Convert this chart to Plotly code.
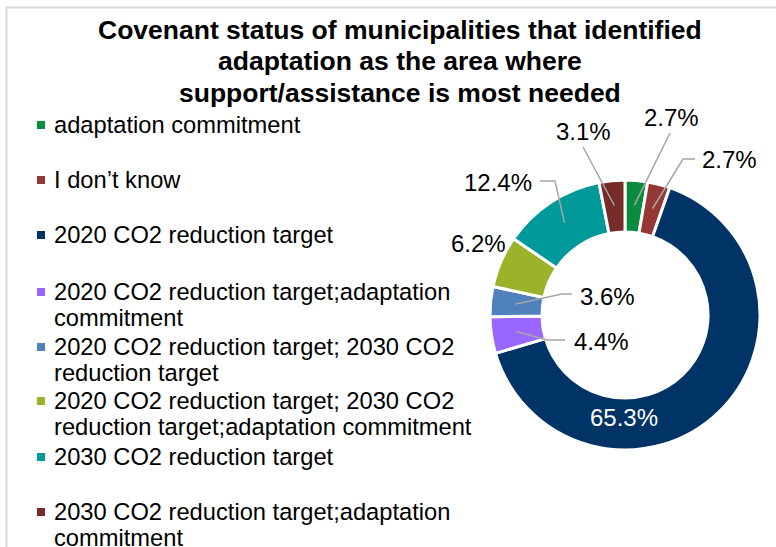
import math
import plotly.graph_objects as go

# Covenant status categories and their shares (%)
categories = [
    "adaptation commitment",
    "I don\u2019t know",
    "2020 CO2 reduction target",
    "2020 CO2 reduction target;adaptation commitment",
    "2020 CO2 reduction target; 2030 CO2 reduction target",
    "2020 CO2 reduction target; 2030 CO2 reduction target;adaptation commitment",
    "2030 CO2 reduction target",
    "2030 CO2 reduction target;adaptation commitment",
]
shares = [2.7, 2.7, 65.3, 4.4, 3.6, 6.2, 12.4, 3.1]

# Legend entries wrapped the way they are displayed
legend_lines = [
    ["adaptation commitment"],
    ["I don\u2019t know"],
    ["2020 CO2 reduction target"],
    ["2020 CO2 reduction target;adaptation", "commitment"],
    ["2020 CO2 reduction target; 2030 CO2", "reduction target"],
    ["2020 CO2 reduction target; 2030 CO2", "reduction target;adaptation commitment"],
    ["2030 CO2 reduction target"],
    ["2030 CO2 reduction target;adaptation", "commitment"],
]

title_lines = [
    "Covenant status of municipalities that identified",
    "adaptation as the area where",
    "support/assistance is most needed",
]

colors = ["#0A8C3E", "#953735", "#003366", "#9966FF",
          "#4F81BD", "#9BB22B", "#009999", "#772C2A"]

W, H = 776, 547
FONT = "Arial, Liberation Sans, sans-serif"

# Donut geometry (pixels)
CX, CY, R = 625, 315, 135
HOLE = 0.615
LEADER_R = 110


def px(x):
    return x / W


def py(y):
    return 1 - y / H


fig = go.Figure()
fig.add_trace(go.Pie(
    labels=categories,
    values=shares,
    sort=False,
    direction="clockwise",
    rotation=0,
    hole=HOLE,
    marker=dict(colors=colors, line=dict(color="white", width=3)),
    textinfo="none",
    showlegend=False,
    domain=dict(x=[px(CX - R), px(CX + R)], y=[py(CY + R), py(CY - R)]),
))

shapes = []
annotations = []

# Chart-area frame
shapes.append(dict(type="rect", xref="paper", yref="paper",
                   x0=px(6.5), y0=py(560), x1=px(790), y1=py(7.5),
                   line=dict(color="#D9D9D9", width=2), fillcolor="rgba(0,0,0,0)",
                   layer="below"))

# Title, one annotation per line for tight line spacing
for k, txt in enumerate(title_lines):
    annotations.append(dict(
        text=f"<b>{txt}</b>", x=px(400), y=py(30 + k * 31.5),
        xref="paper", yref="paper", showarrow=False,
        xanchor="center", yanchor="middle",
        font=dict(family=FONT, size=26.5, color="#000000")))

# Legend: square marker plus wrapped text
legend_y = [125, 180, 235, 292, 347, 401, 457, 512]
line_gap = 26
for col, lines, y0 in zip(colors, legend_lines, legend_y):
    shapes.append(dict(type="rect", xref="paper", yref="paper",
                       x0=px(37), x1=px(45), y0=py(y0 + 4), y1=py(y0 - 4),
                       fillcolor=col, line=dict(width=0)))
    for k, txt in enumerate(lines):
        annotations.append(dict(
            text=txt, x=px(52), y=py(y0 + k * line_gap), xref="paper", yref="paper",
            showarrow=False, xanchor="left", yanchor="middle",
            font=dict(family=FONT, size=23.7, color="#000000")))

# Data labels: label centre and optional leader-line elbow points
label_pos = [(671, 117), (729, 160), (624, 417), (601, 341),
             (607, 296), (478, 243), (498, 183), (583, 131)]
leader_pts = [
    [(670, 133)],
    [(695, 159), (683, 159)],
    None,
    [(565, 340), (547, 340)],
    [(572, 294), (562, 294)],
    None,
    [(540, 181), (555, 181)],
    [(583, 147)],
]

total = sum(shares)
cum = 0.0
for i, v in enumerate(shares):
    mid = (cum + v / 2) / total * 2 * math.pi
    cum += v
    lx, ly = label_pos[i]
    white = i == 2
    annotations.append(dict(
        text=f"{v:.1f}%", x=px(lx), y=py(ly), xref="paper", yref="paper",
        showarrow=False, xanchor="center", yanchor="middle",
        font=dict(family=FONT, size=24, color="#FFFFFF" if white else "#000000")))
    if leader_pts[i]:
        ax = CX + LEADER_R * math.sin(mid)
        ay = CY - LEADER_R * math.cos(mid)
        pts = leader_pts[i] + [(ax, ay)]
        path = "M " + " L ".join(f"{px(x)},{py(y)}" for x, y in pts)
        shapes.append(dict(type="path", xref="paper", yref="paper", path=path,
                           line=dict(color="#A6A6A6", width=1.5)))

fig.update_layout(
    width=W, height=H,
    margin=dict(l=0, r=0, t=0, b=0),
    paper_bgcolor="white", plot_bgcolor="white",
    shapes=shapes, annotations=annotations,
    showlegend=False,
)

fig.write_html("out.html", config={"displayModeBar": False})
